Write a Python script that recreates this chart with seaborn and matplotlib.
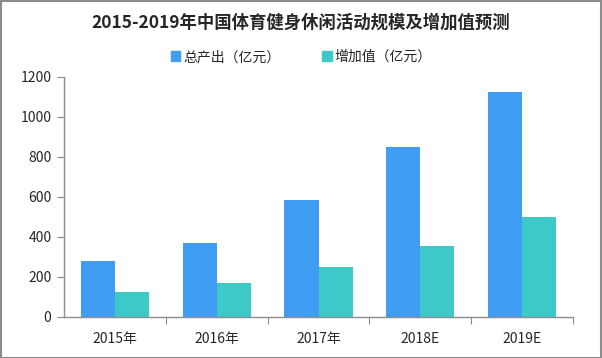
import pandas as pd
import matplotlib
matplotlib.use("Agg")
import matplotlib.pyplot as plt
import seaborn as sns
from matplotlib.patches import Rectangle

# ---- data ----
years = ["2015年", "2016年", "2017年", "2018E", "2019E"]
output_total = [280, 369, 583, 848, 1126]   # 总产出（亿元）
value_added = [125, 171, 249, 354, 500]     # 增加值（亿元）
series_names = ["总产出（亿元）", "增加值（亿元）"]

df = pd.DataFrame({
    "year": years * 2,
    "value": output_total + value_added,
    "series": [series_names[0]] * len(years) + [series_names[1]] * len(years),
})

sns.set_style("white")
plt.rcParams['font.family'] = ['Noto Sans CJK SC', 'DejaVu Sans']

fig = plt.figure(figsize=(6.02, 3.58), dpi=100)
ax = fig.add_axes([64 / 602, 1 - 317 / 358, 509 / 602, (317 - 76.7) / 358])

sns.barplot(data=df, x="year", y="value", hue="series", order=years,
            palette=["#3F9EF4", "#3EC9C9"], width=0.67, gap=0,
            saturation=1, linewidth=0, ax=ax, legend=True)

ax.set_ylim(0, 1200)
ax.set_xlim(-0.5, len(years) - 0.5)
ax.set_yticks(range(0, 1201, 200))
ax.set_xlabel("")
ax.set_ylabel("")

for s in ["top", "right"]:
    ax.spines[s].set_visible(False)
for s in ["left", "bottom"]:
    ax.spines[s].set_color("#8c8c8c")
    ax.spines[s].set_linewidth(1)

# x ticks at category boundaries
ax.set_xticks([i + 0.5 for i in range(len(years))], minor=False)
ax.set_xticklabels([])
ax.set_xticks(range(len(years)), minor=True)
ax.set_xticklabels(years, minor=True)
ax.tick_params(axis="x", which="major", length=5, color="#8c8c8c", direction="out", bottom=True)
ax.tick_params(axis="x", which="minor", length=0, labelsize=10, pad=11, bottom=True)
ax.tick_params(axis="y", length=5, color="#8c8c8c", direction="out", left=True, labelsize=10, pad=4)

leg = ax.get_legend()
leg.remove()
handles = [Rectangle((0, 0), 1, 1, color=c) for c in ["#3F9EF4", "#3EC9C9"]]
fig.legend(handles, series_names, loc="center", bbox_to_anchor=(0.5, 1 - 57 / 358),
           ncol=2, frameon=False, fontsize=10, handlelength=0.7, handleheight=0.7,
           handletextpad=0.2, columnspacing=3)

fig.text(0.5, 1 - 23 / 358, "2015-2019年中国体育健身休闲活动规模及增加值预测",
         ha="center", va="center", fontsize=12.5, fontweight="bold")

# grey frame around the whole picture
fig.patches.append(Rectangle((0.001, 0.001), 0.997, 0.997, transform=fig.transFigure,
                             fill=False, edgecolor="#8c8c8c", linewidth=1.5))

fig.savefig("out.png", dpi=100)
